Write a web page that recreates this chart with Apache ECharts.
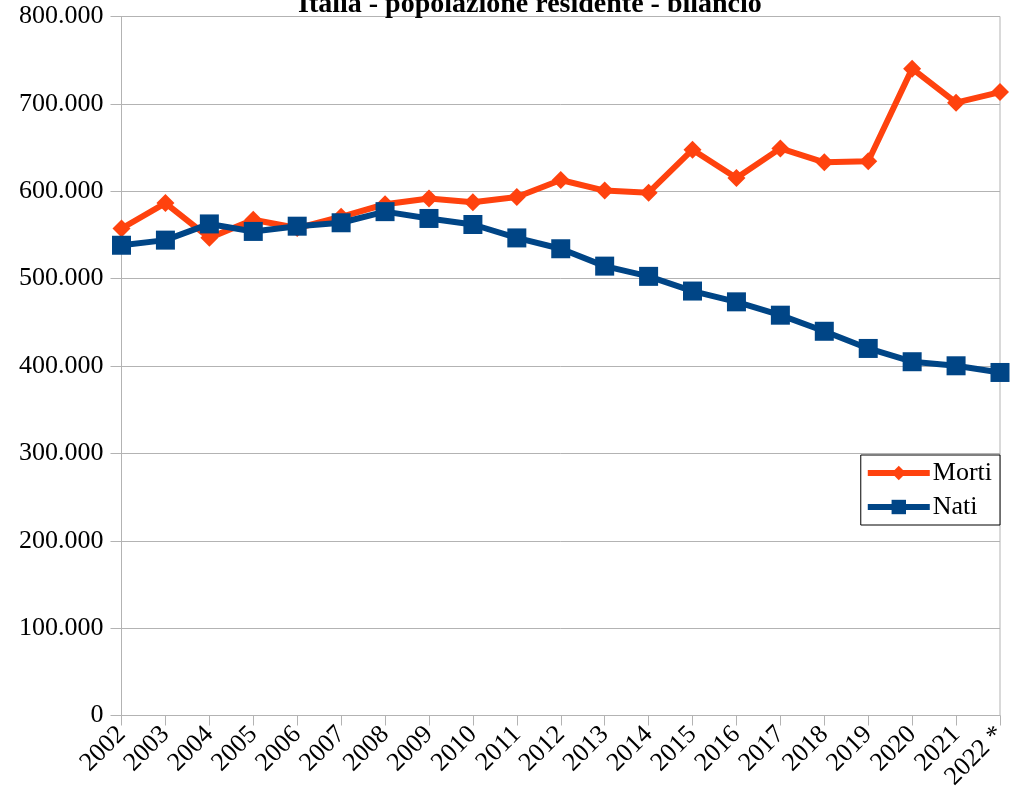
<!DOCTYPE html>
<html>
<head>
<meta charset="utf-8">
<script src="https://cdn.jsdelivr.net/npm/echarts@6/dist/echarts.min.js"></script>
<style>
  html, body { margin: 0; padding: 0; background: #fff; }
  #main { width: 1026px; height: 806px; }
</style>
</head>
<body>
<div id="main"></div>
<script>
// anni
const anni = ['2002', '2003', '2004', '2005', '2006', '2007', '2008', '2009', '2010', '2011',
  '2012', '2013', '2014', '2015', '2016', '2017', '2018', '2019', '2020', '2021', '2022 *'];
// morti
const morti = [557393, 586468, 546658, 567304, 557892, 570801, 585126, 591663, 587488, 593402,
  612883, 600744, 598364, 647571, 615261, 649061, 633133, 634417, 740317, 701346, 713499];
// nati
const nati = [538198, 544063, 562599, 554022, 560010, 563933, 576659, 568857, 561944, 546585,
  534186, 514308, 502596, 485780, 473438, 458151, 439747, 420084, 404892, 400249, 392598];

const serif = '"Liberation Serif", "DejaVu Serif", serif';
const grigio = '#b3b3b3';

function formatta(v) {
  return String(v).replace(/\B(?=(\d{3})+(?!\d))/g, '.');
}

let myChart = echarts.init(document.getElementById('main'));

let option = {
  backgroundColor: '#fff',
  animation: false,
  title: {
    text: 'Italia - popolazione residente - bilancio',
    left: 293,
    top: -14,
    textStyle: { fontFamily: serif, fontSize: 28, fontWeight: 'bold', color: '#000' }
  },
  legend: {
    orient: 'vertical',
    right: 26,
    top: 455,
    padding: [5, 8, 5, 4],
    itemGap: 8,
    itemWidth: 62,
    itemHeight: 18,
    borderColor: '#000',
    borderWidth: 1,
    backgroundColor: '#fff',
    lineStyle: { width: 6 },
    textStyle: { fontFamily: serif, fontSize: 26, color: '#000', padding: [0, 0, 0, -2] },
    data: ['Morti', 'Nati']
  },
  grid: {
    left: 121.5,
    right: 26,
    top: 16.5,
    bottom: 90.5,
    show: true,
    borderColor: grigio,
    borderWidth: 1
  },
  xAxis: {
    type: 'category',
    boundaryGap: false,
    data: anni,
    axisLine: { lineStyle: { color: grigio, width: 1 } },
    axisTick: { show: true, interval: 0, length: 10, lineStyle: { color: grigio } },
    axisLabel: {
      interval: 0,
      rotate: 45,
      margin: 15,
      fontFamily: serif,
      fontSize: 26,
      color: '#000'
    },
    splitLine: { show: false }
  },
  yAxis: {
    type: 'value',
    min: 0,
    max: 800000,
    interval: 100000,
    axisLine: { show: true, lineStyle: { color: grigio, width: 1 } },
    axisTick: { show: true, length: 11, lineStyle: { color: grigio } },
    axisLabel: {
      margin: 18,
      fontFamily: serif,
      fontSize: 26,
      color: '#000',
      formatter: formatta
    },
    splitLine: { show: true, lineStyle: { color: grigio, width: 1 } }
  },
  series: [
    {
      name: 'Morti',
      type: 'line',
      data: morti,
      symbol: 'diamond',
      symbolSize: 18,
      lineStyle: { width: 6, color: '#ff420e' },
      itemStyle: { color: '#ff420e' },
      z: 2
    },
    {
      name: 'Nati',
      type: 'line',
      data: nati,
      symbol: 'rect',
      symbolSize: 19,
      lineStyle: { width: 6, color: '#004586' },
      itemStyle: { color: '#004586' },
      z: 3
    }
  ]
};

myChart.setOption(option);
</script>
</body>
</html>
